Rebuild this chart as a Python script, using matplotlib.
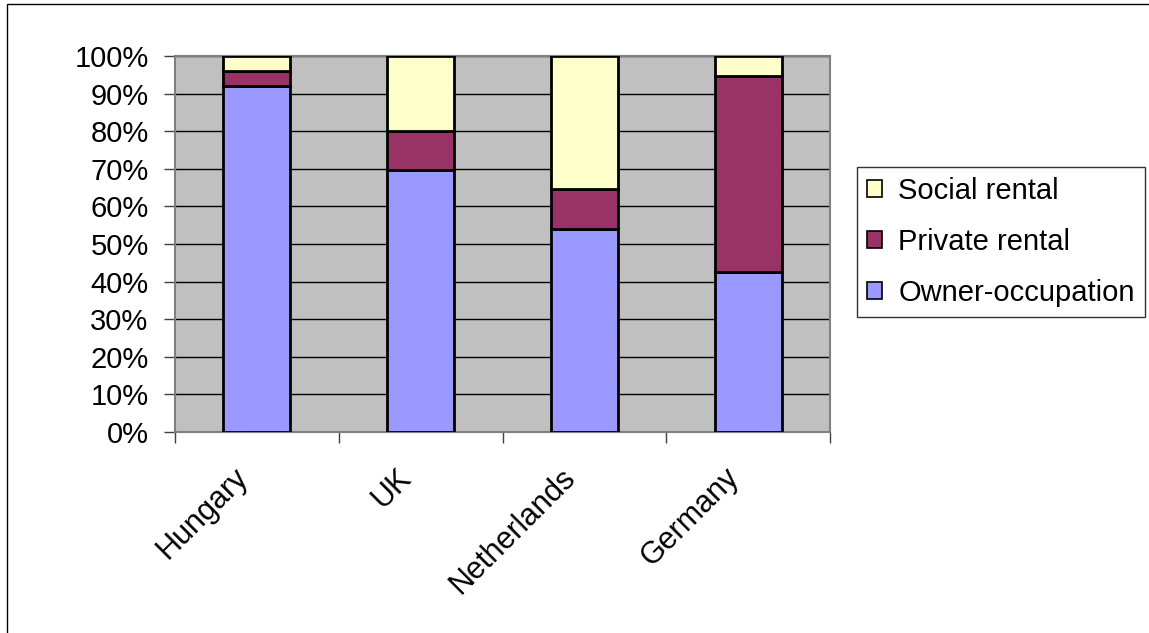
import matplotlib.pyplot as plt
import matplotlib.transforms as mtransforms
import numpy as np
from matplotlib.patches import Rectangle, Patch

plt.rcParams['font.family'] = ['Liberation Sans', 'DejaVu Sans']

countries = ['Hungary', 'UK', 'Netherlands', 'Germany']
owner = [92.0, 69.7, 53.9, 42.5]
private = [4.0, 10.4, 10.8, 52.3]
social = [4.0, 19.9, 35.3, 5.2]

series = ['Owner-occupation', 'Private rental', 'Social rental']
colors = ['#9999FF', '#993366', '#FFFFCC']
yticks = np.arange(0, 101, 10)

fig = plt.figure(figsize=(11.49, 6.33), dpi=100)
ax = fig.add_axes([175 / 1149, 1 - 432 / 633, (830 - 175) / 1149, (432 - 56) / 633])

# frame around the whole chart
fig.patches.append(Rectangle((7 / 1149, -0.01), 1.2, 1 - 4 / 633 + 0.01,
                             transform=fig.transFigure, fill=False,
                             edgecolor='black', linewidth=1.0))

x = np.arange(len(countries))
bottom = np.zeros(len(countries))
for name, vals, col in zip(series, [owner, private, social], colors):
    ax.bar(x, vals, width=0.41, bottom=bottom, color=col, edgecolor='black',
           linewidth=2.0, label=name, zorder=3)
    bottom += np.array(vals)

ax.set_facecolor('#C0C0C0')
ax.set_xlim(-0.5, len(countries) - 0.5)
ax.set_ylim(0, 100)
ax.set_yticks(yticks)
ax.set_yticklabels(['{}%'.format(v) for v in yticks], fontsize=21)
ax.yaxis.grid(True, color='black', linewidth=1.0, zorder=1)
ax.set_axisbelow(True)

ax.set_xticks(x)
ax.set_xticklabels(countries, fontsize=22, rotation=45, ha='right',
                   rotation_mode='anchor')
ax.set_xticks(np.arange(-0.5, len(countries), 1.0), minor=True)
ax.tick_params(axis='x', which='major', length=0, pad=22)
ax.tick_params(axis='x', which='minor', length=8, width=1, color='#404040')
ax.tick_params(axis='y', length=8, width=1, color='#404040', pad=11)

# shift category labels left, like the original
shift = mtransforms.ScaledTranslation(-24 / 100, 0, fig.dpi_scale_trans)
for lab in ax.get_xticklabels():
    lab.set_transform(lab.get_transform() + shift)

for s in ax.spines.values():
    s.set_color('#808080')
    s.set_linewidth(1.5)

handles = [Patch(facecolor=c, edgecolor='black', linewidth=1.2) for c in colors]
leg = fig.legend(handles[::-1], series[::-1], loc='center left',
                 bbox_to_anchor=(857 / 1149, 1 - 242 / 633), fontsize=21,
                 frameon=True, fancybox=False, edgecolor='black',
                 handlelength=0.52, handleheight=0.52, handletextpad=0.55,
                 labelspacing=0.78, borderpad=0.35, borderaxespad=0)
leg.get_frame().set_linewidth(1.0)

fig.savefig('out.png', dpi=100)
